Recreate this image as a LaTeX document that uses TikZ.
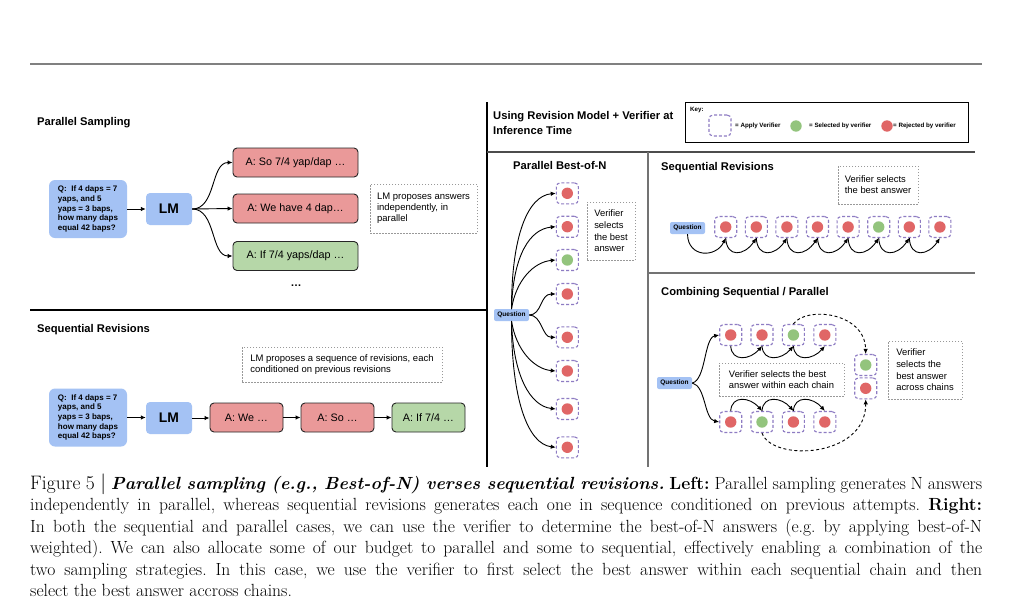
\documentclass[tikz,border=0pt]{standalone}
\usepackage{fontspec}
\newfontfamily\dsans{Liberation Sans}
\usetikzlibrary{arrows.meta}
\frenchspacing
\definecolor{qblue}{HTML}{A4C2F4}
\definecolor{redbox}{HTML}{EA9999}
\definecolor{greenbox}{HTML}{B6D7A8}
\definecolor{redc}{HTML}{E06666}
\definecolor{greenc}{HTML}{93C47D}
\definecolor{vpurple}{HTML}{8E7CC3}
\tikzset{
  arr/.style={-{Latex[length=5pt,width=4.5pt]}, line width=0.9pt},
  darr/.style={arr, dash pattern=on 3pt off 2.5pt},
  ttl/.style={anchor=west, inner sep=0pt, font=\dsans\bfseries\fontsize{11.2}{13}\selectfont},
  qbox/.style={fill=qblue, rounded corners=6pt, minimum width=78pt, minimum height=58pt, inner sep=0pt, align=left, font=\dsans\bfseries\fontsize{8}{9.7}\selectfont},
  lmbox/.style={fill=qblue, rounded corners=4pt, minimum width=46pt, minimum height=32pt, inner sep=0pt, font=\dsans\bfseries\fontsize{13.9}{15}\selectfont},
  ansbox/.style={draw=black!85, line width=0.9pt, rounded corners=4pt, minimum height=29pt, inner sep=0pt, font=\dsans\fontsize{10.8}{12}\selectfont},
  note/.style={draw=black!40, dash pattern=on 1.5pt off 1.5pt, line width=0.9pt, inner sep=0pt, align=left},
  qsmall/.style={fill=qblue, rounded corners=2pt, minimum width=35pt, minimum height=12pt, inner sep=0pt, font=\dsans\bfseries\fontsize{6.5}{7}\selectfont},
  vsq/.style={draw=vpurple, dash pattern=on 3pt off 2pt, line width=1.1pt, rounded corners=4pt, minimum width=22pt, minimum height=21pt, inner sep=0pt},
  vdot/.style={circle, inner sep=0pt, minimum size=11.4pt},
  keyt/.style={anchor=west, inner sep=0pt, font=\dsans\bfseries\fontsize{6.2}{7}\selectfont},
  capl/.style={anchor=base west, inner sep=0pt, font=\fontsize{17.6}{20}\selectfont},
}
\newcommand{\vnode}[4]{\node[vsq] (#1) at (#2,#3) {}; \node[vdot, fill=#4] (#1c) at (#2,#3) {};}
\begin{document}
\begin{tikzpicture}[x=1pt,y=-1pt]
\useasboundingbox (0,0) rectangle (1009,613);
\fill[white] (0,0) rectangle (1009,613);

% rules and dividers
\draw[line width=2pt, black!50] (30,64) -- (982,64);
\draw[line width=2.5pt] (487,102) -- (487,467);
\draw[line width=2.5pt] (30,310) -- (487,310);
\draw[line width=1.8pt, black!70] (487,152) -- (975,152);
\draw[line width=1.8pt, black!55] (648,152) -- (648,467);
\draw[line width=1.8pt, black!55] (648,272.7) -- (975,272.7);

% ---------- Left: Parallel Sampling ----------
\node[ttl] (tps) at (37,123) {Parallel Sampling};
\node[qbox] (q1) at (88,209) {Q:\ \ If 4 daps = 7\\yaps, and 5\\yaps = 3 baps,\\how many daps\\equal 42 baps?};
\node[lmbox] (lm1) at (169,209) {LM};
\node[ansbox, fill=redbox, minimum width=125pt] (a1) at (295.5,162.5) {A: So 7/4 yap/dap …};
\node[ansbox, fill=redbox, minimum width=125pt] (a2) at (295.5,208.5) {A: We have 4 dap…};
\node[ansbox, fill=greenbox, minimum width=125pt] (a3) at (295.5,256) {A: If 7/4 yaps/dap …};
\node[inner sep=0pt, font=\dsans\bfseries\fontsize{11}{12}\selectfont] (dots) at (296,286) {…};
\node[note, minimum width=107pt, minimum height=49pt, font=\dsans\fontsize{9.5}{11.2}\selectfont] (n1) at (423.5,208.5) {LM proposes answers\\independently, in\\parallel};
\draw[arr] (q1.east) -- (lm1.west);
\draw[arr] (lm1.east) .. controls +(24,0) and +(-22,0) .. (a1.west);
\draw[arr] (lm1.east) -- (a2.west);
\draw[arr] (lm1.east) .. controls +(24,0) and +(-22,0) .. (a3.west);

% ---------- Left: Sequential Revisions ----------
\node[ttl] (tsr) at (37,330) {Sequential Revisions};
\node[note, minimum width=200pt, minimum height=35pt, font=\dsans\fontsize{9.5}{11.2}\selectfont] (n2) at (342,364.5) {LM proposes a sequence of revisions, each\\conditioned on previous revisions};
\node[qbox] (q2) at (88,417.5) {Q:\ \ If 4 daps = 7\\yaps, and 5\\yaps = 3 baps,\\how many daps\\equal 42 baps?};
\node[lmbox] (lm2) at (169,418) {LM};
\node[ansbox, fill=redbox, minimum width=73pt] (b1) at (246.5,417.5) {A: We …};
\node[ansbox, fill=redbox, minimum width=73pt] (b2) at (337.5,417.5) {A: So …};
\node[ansbox, fill=greenbox, minimum width=73pt] (b3) at (428.5,417.5) {A: If 7/4 …};
\draw[arr] (q2.east) -- (q2.east -| lm2.west);
\draw[arr] (lm2.east) -- (lm2.east -| b1.west);
\draw[arr] (b1.east) -- (b2.west);
\draw[arr] (b2.east) -- (b3.west);

% ---------- Right header ----------
\node[ttl, align=left, font=\dsans\bfseries\fontsize{11.2}{15}\selectfont] (thead) at (493,122.5) {Using Revision Model + Verifier at\\Inference Time};
\node[draw, line width=0.8pt, minimum width=283pt, minimum height=40pt, inner sep=0pt] (key) at (826.5,122) {};
\node[keyt] (keyl) at (690,110) {Key:};
\node[vsq] (k1) at (720,125.5) {};
\node[keyt] (k1t) at (735,126) {= Apply Verifier};
\node[vdot, fill=greenc] (k2) at (796,126) {};
\node[keyt] (k2t) at (809,126) {= Selected by verifier};
\node[vdot, fill=redc] (k3) at (887,126) {};
\node[keyt] (k3t) at (893,126) {= Rejected by verifier};

% ---------- Parallel Best-of-N ----------
\node[ttl] (tpb) at (513,165) {Parallel Best-of-N};
\node[qsmall] (qp) at (511.5,315) {Question};
\vnode{p1}{567.3}{193.3}{redc}
\vnode{p2}{567.3}{226.7}{redc}
\vnode{p3}{567.3}{260}{greenc}
\vnode{p4}{567.3}{294}{redc}
\vnode{p5}{567.3}{337.3}{redc}
\vnode{p6}{567.3}{371}{redc}
\vnode{p7}{567.3}{409}{redc}
\vnode{p8}{567.3}{447.3}{redc}
\node[note, minimum width=48pt, minimum height=58pt, font=\dsans\fontsize{9.4}{11.7}\selectfont] (np) at (611,231) {Verifier\\selects\\the best\\answer};
\coordinate (qpt) at (511.5,309);
\coordinate (qpb) at (511.5,321);
\draw[arr] (qpt) .. controls (511.5,235) and (528,196) .. (p1.west);
\draw[arr] (qpt) .. controls (513,255) and (530,229) .. (p2.west);
\draw[arr] (qpt) .. controls (516,280) and (534,262) .. (p3.west);
\draw[arr] (qp.east) .. controls (542,315) and (540,294) .. (p4.west);
\draw[arr] (qp.east) .. controls (542,315) and (542,337.3) .. (p5.west);
\draw[arr] (qpb) .. controls (516,350) and (534,369) .. (p6.west);
\draw[arr] (qpb) .. controls (513,375) and (530,406) .. (p7.west);
\draw[arr] (qpb) .. controls (511.5,400) and (528,444) .. (p8.west);

% ---------- Sequential Revisions (right) ----------
\node[ttl] (tsr2) at (661,168) {Sequential Revisions};
\node[note, minimum width=80pt, minimum height=38pt, font=\dsans\fontsize{9.4}{11}\selectfont] (ns) at (878,185) {Verifier selects\\the best answer};
\node[qsmall] (qs) at (687.5,228) {Question};
\vnode{s1}{725.7}{227}{redc}
\vnode{s2}{756.3}{227}{redc}
\vnode{s3}{786.9}{227}{redc}
\vnode{s4}{817.5}{227}{redc}
\vnode{s5}{848.1}{227}{redc}
\vnode{s6}{878.7}{227}{greenc}
\vnode{s7}{909.3}{227}{redc}
\vnode{s8}{939.9}{227}{redc}
\draw[arr] (qs.south) .. controls (688,258) and (716,258) .. (s1.south);
\foreach \a/\b in {s1/s2,s2/s3,s3/s4,s4/s5,s5/s6,s6/s7,s7/s8}{
  \draw[arr] (\a.south) .. controls +(1,20) and +(-12,18) .. (\b.south);
}

% ---------- Combining Sequential / Parallel ----------
\node[ttl] (tcp) at (661,293) {Combining Sequential / Parallel};
\node[qsmall] (qc) at (674.5,383) {Question};
\vnode{t1}{730.7}{335}{redc}
\vnode{t2}{762}{335}{redc}
\vnode{t3}{793.4}{335}{greenc}
\vnode{t4}{824.8}{335}{redc}
\vnode{u1}{730.7}{422}{redc}
\vnode{u2}{762}{422}{greenc}
\vnode{u3}{793.4}{422}{redc}
\vnode{u4}{824.8}{422}{redc}
\vnode{r1}{865.7}{365}{greenc}
\vnode{r2}{865.7}{388.3}{redc}
\node[note, minimum width=125pt, minimum height=33pt, font=\dsans\fontsize{9.4}{11.7}\selectfont] (nc1) at (781.5,379.5) {Verifier selects the best\\answer within each chain};
\node[note, minimum width=74pt, minimum height=58pt, font=\dsans\fontsize{9.4}{11.7}\selectfont] (nc2) at (925,370) {Verifier\\selects the\\best answer\\across chains};
\draw[arr] (qc.east) .. controls (706,380) and (704,338) .. (t1.west);
\draw[arr] (qc.east) .. controls (706,386) and (704,419) .. (u1.west);
\foreach \a/\b in {t1/t2,t2/t3,t3/t4}{
  \draw[arr] (\a.south) .. controls +(1,16) and +(-12,14) .. (\b.south);
}
\foreach \a/\b in {u1/u2,u2/u3,u3/u4}{
  \draw[arr] (\a.north) .. controls +(1,-16) and +(-12,-14) .. (\b.north);
}
\draw[darr] (t3.north) .. controls (806,306) and (865,312) .. (r1.north);
\draw[darr] (u2.south) .. controls (772,462) and (866,458) .. (r2.south);

% ---------- Caption ----------
\node[capl] (c1) at (30,489) {\makebox[952pt][s]{{\fontsize{19.5}{20}\selectfont Figure 5 $|$} \textbf{\textit{Parallel sampling (e.g., Best-of-N) verses sequential revisions.}} \textbf{Left:} Parallel sampling generates N answers}};
\node[capl] (c2) at (30,510.5) {\makebox[952pt][s]{independently in parallel, whereas sequential revisions generates each one in sequence conditioned on previous attempts. \textbf{Right:}}};
\node[capl] (c3) at (30,532) {\makebox[952pt][s]{In both the sequential and parallel cases, we can use the verifier to determine the best-of-N answers (e.g. by applying best-of-N}};
\node[capl] (c4) at (30,553.5) {\makebox[952pt][s]{weighted). We can also allocate some of our budget to parallel and some to sequential, effectively enabling a combination of the}};
\node[capl] (c5) at (30,575) {\makebox[952pt][s]{two sampling strategies. In this case, we use the verifier to first select the best answer within each sequential chain and then}};
\node[capl] (c6) at (30,596) {select the best answer accross chains.};
\end{tikzpicture}
\end{document}
